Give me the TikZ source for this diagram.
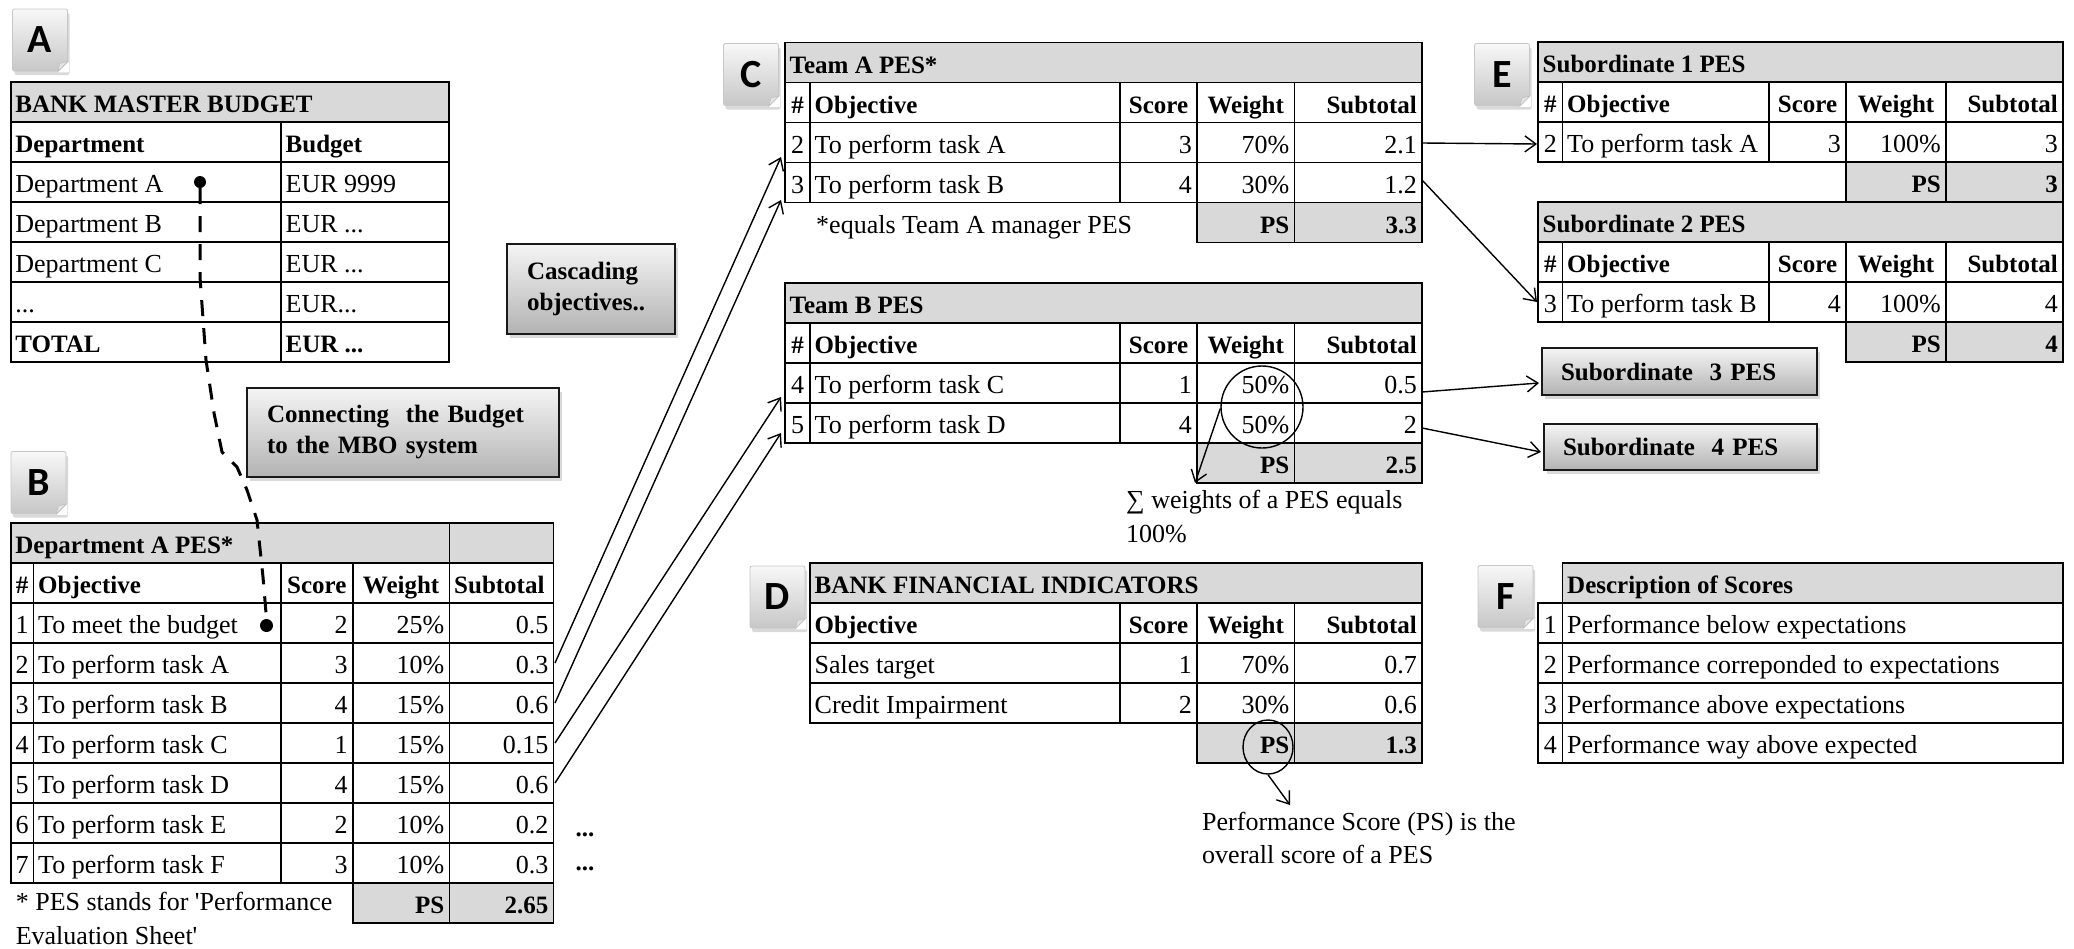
\documentclass[tikz,border=0pt]{standalone}
\usepackage{fontspec}
\setmainfont{Liberation Serif}
\newfontfamily\lblfont{Carlito}
\usetikzlibrary{arrows.meta,shadows,shapes.geometric}
\tikzset{
 reg/.style={font=\fontsize{26}{30}\selectfont},
 bld/.style={font=\fontsize{25}{30}\selectfont\bfseries},
 tl/.style={anchor=base west, inner sep=0pt},
 tr/.style={anchor=base east, inner sep=0pt},
 tc/.style={anchor=base, inner sep=0pt},
 grid/.style={line width=1.8pt, draw=black},
 hdr/.style={fill=black!15},
 lbl/.style={draw=black!22, line width=0.8pt, top color=black!3, bottom color=black!22, minimum width=55pt, minimum height=62pt, rounded corners=2pt, drop shadow={shadow xshift=2pt, shadow yshift=-4pt, opacity=0.3}, font=\lblfont\bfseries\fontsize{40}{40}\selectfont, inner sep=0pt},
 fold/.style={draw=black!25, line width=0.6pt, fill=black!10},
 gbox/.style={draw=black!90, line width=1.6pt, top color=black!4, bottom color=black!30, drop shadow={shadow xshift=3pt, shadow yshift=-4pt, opacity=0.3}, font=\fontsize{25}{31}\selectfont\bfseries, align=left, inner ysep=0pt, inner xsep=0pt},
 arr/.style={line width=1.4pt, -{Straight Barb[length=11pt,width=16pt,line width=1.4pt]}},
 dash line/.style={line width=3pt, dash pattern=on 16pt off 12pt},
}
\newcommand\tabL[5][reg]{\node[tl,#1] (#2) at ({#3+4.5},{#4-9.5}) {#5};}
\newcommand\tabR[5][reg]{\node[tr,#1] (#2) at ({#3-5},{#4-9.5}) {#5};}
\newcommand\tabC[5][reg]{\node[tc,#1] (#2) at ({#3},{#4-9.5}) {#5};}
\newcommand\pesgrid[8]{%
 \pgfmathsetmacro\pgY{#7+80+40*#8}%
 \pgfmathtruncatemacro\pgN{#8+1}%
 \fill[hdr] (#1,#7) rectangle (#6,{#7+40});
 \fill[hdr] (#4,\pgY) rectangle (#6,{\pgY+40});
 \foreach \k in {1,...,\pgN} \draw[grid] (#1,{#7+40*\k}) -- (#6,{#7+40*\k});
 \foreach \xx in {#2,#3,#4,#5} \draw[grid] (\xx,{#7+40}) -- (\xx,\pgY);
 \draw[grid] (#1,#7) rectangle (#6,\pgY);
 \draw[grid] (#4,\pgY) rectangle (#6,{\pgY+40});
 \draw[grid] (#5,\pgY) -- (#5,{\pgY+40});
}
\newcommand\labelbox[3]{%
 \node[lbl] (#1) at (#2) {#3};
 \fill[white] ([xshift=-10pt,yshift=-1pt]#1.south east) -- ([xshift=1pt,yshift=-1pt]#1.south east) -- ([xshift=1pt,yshift=10pt]#1.south east) -- cycle;
 \draw[fold] ([xshift=-10pt]#1.south east) -- ([xshift=-8pt,yshift=8pt]#1.south east) -- ([yshift=10pt]#1.south east) -- cycle;
}
\begin{document}
\begin{tikzpicture}[x=1pt,y=-1pt]
\useasboundingbox (0,0) rectangle (2074,948);

% ---------- labels ----------
\labelbox{labA}{40,40}{A}
\labelbox{labB}{38.5,482.5}{B}
\labelbox{labC}{751,74.5}{C}
\labelbox{labD}{777.5,597}{D}
\labelbox{labE}{1502,74.5}{E}
\labelbox{labF}{1505.5,596.5}{F}

% ---------- Table A ----------
\fill[hdr] (10.7,82) rectangle (448.6,122);
\draw[grid] (10.7,82) rectangle (448.6,362);
\foreach \yy in {122,162,202,242,282,322} \draw[grid] (10.7,\yy) -- (448.6,\yy);
\draw[grid] (281,122) -- (281,362);
\tabL[bld]{aTitle}{10.7}{122}{BANK MASTER BUDGET}
\tabL[bld]{aDep}{10.7}{162}{Department}
\tabL[bld]{aBud}{281}{162}{Budget}
\tabL{aR1}{10.7}{202}{Department A}
\tabL{aV1}{281}{202}{EUR 9999}
\tabL{aR2}{10.7}{242}{Department B}
\tabL{aV2}{281}{242}{EUR ...}
\tabL{aR3}{10.7}{282}{Department C}
\tabL{aV3}{281}{282}{EUR ...}
\tabL{aR4}{10.7}{322}{...}
\tabL{aV4}{281}{322}{EUR...}
\tabL[bld]{aR5}{10.7}{362}{TOTAL}
\tabL[bld]{aV5}{281}{362}{EUR ...}

% ---------- Table B ----------
\pesgrid{10.7}{33.5}{281}{352.7}{449.5}{553.5}{523}{7}
\draw[grid] (449.5,523) -- (449.5,563);
\tabL[bld]{bTitle}{10.7}{563}{Department A PES*}
\tabC[bld]{bH0}{22.1}{603}{\#}
\tabL[bld]{bH1}{33.5}{603}{Objective}
\tabC[bld]{bH2}{316.85}{603}{Score}
\tabC[bld]{bH3}{401.1}{603}{Weight}
\tabL[bld]{bH4}{449.5}{603}{Subtotal}
\foreach \vn/\vo/\vs/\vw/\vt [count=\r] in {1/To meet the budget/2/25\%/0.5, 2/To perform task A/3/10\%/0.3, 3/To perform task B/4/15\%/0.6, 4/To perform task C/1/15\%/0.15, 5/To perform task D/4/15\%/0.6, 6/To perform task E/2/10\%/0.2, 7/To perform task F/3/10\%/0.3} {
 \pgfmathsetmacro\yy{603+40*\r}
 \tabC{bn\vn}{22.1}{\yy}{\vn}
 \tabL{bo\vn}{33.5}{\yy}{\vo}
 \tabR{bs\vn}{352.7}{\yy}{\vs}
 \tabR{bw\vn}{449.5}{\yy}{\vw}
 \tabR{bt\vn}{553.5}{\yy}{\vt}
}
\tabR[bld]{bPS}{449.5}{923}{PS}
\tabR[bld]{bPSv}{553.5}{923}{2.65}
\node[tc,bld] (bDots1) at (585,836) {...};
\node[tc,bld] (bDots2) at (585,870) {...};
\node[tl,reg] (fn1) at (15.6,910) {* PES stands for \textquotesingle Performance};
\node[tl,reg] (fn2) at (15.6,944) {Evaluation Sheet\textquotesingle};

% ---------- Table C ----------
\pesgrid{785}{810}{1120}{1197}{1294.5}{1422}{42.5}{2}
\tabL[bld]{cTitle}{785}{82.5}{Team A PES*}
\tabC[bld]{cH0}{797.5}{122.5}{\#}
\tabL[bld]{cH1}{810}{122.5}{Objective}
\tabC[bld]{cH2}{1158.5}{122.5}{Score}
\tabC[bld]{cH3}{1245.75}{122.5}{Weight}
\tabR[bld]{cH4}{1422}{122.5}{Subtotal}
\tabC{cn2}{797.5}{162.5}{2}
\tabL{co2}{810}{162.5}{To perform task A}
\tabR{cs2}{1197}{162.5}{3}
\tabR{cw2}{1294.5}{162.5}{70\%}
\tabR{ct2}{1422}{162.5}{2.1}
\tabC{cn3}{797.5}{202.5}{3}
\tabL{co3}{810}{202.5}{To perform task B}
\tabR{cs3}{1197}{202.5}{4}
\tabR{cw3}{1294.5}{202.5}{30\%}
\tabR{ct3}{1422}{202.5}{1.2}
\tabR[bld]{cPS}{1294.5}{242.5}{PS}
\tabR[bld]{cPSv}{1422}{242.5}{3.3}
\node[tl,reg] (cNote) at (816,233) {*equals Team A manager PES};

% ---------- Team B ----------
\pesgrid{785}{810}{1120}{1197}{1294.5}{1422}{283}{2}
\tabL[bld]{tbTitle}{785}{323}{Team B PES}
\tabC[bld]{tbH0}{797.5}{363}{\#}
\tabL[bld]{tbH1}{810}{363}{Objective}
\tabC[bld]{tbH2}{1158.5}{363}{Score}
\tabC[bld]{tbH3}{1245.75}{363}{Weight}
\tabR[bld]{tbH4}{1422}{363}{Subtotal}
\tabC{tbn4}{797.5}{403}{4}
\tabL{tbo4}{810}{403}{To perform task C}
\tabR{tbs4}{1197}{403}{1}
\tabR{tbw4}{1294.5}{403}{50\%}
\tabR{tbt4}{1422}{403}{0.5}
\tabC{tbn5}{797.5}{443}{5}
\tabL{tbo5}{810}{443}{To perform task D}
\tabR{tbs5}{1197}{443}{4}
\tabR{tbw5}{1294.5}{443}{50\%}
\tabR{tbt5}{1422}{443}{2}
\tabR[bld]{tbPS}{1294.5}{483}{PS}
\tabR[bld]{tbPSv}{1422}{483}{2.5}
\node[draw,circle,minimum size=82pt,line width=1.4pt,inner sep=0pt] (circW) at (1262,407) {};
\coordinate (wTip) at (1195,483);
\draw[arr] (circW.182) -- (wTip);
\node[tl,reg] (noteW1) at (1126,508) {∑ weights of a PES equals};
\node[tl,reg] (noteW2) at (1126,542) {100\%};

% ---------- Table D ----------
\pesgrid{810}{810}{1120}{1197}{1294.5}{1422}{563}{2}
\tabL[bld]{dTitle}{810}{603}{BANK FINANCIAL INDICATORS}
\tabL[bld]{dH1}{810}{643}{Objective}
\tabC[bld]{dH2}{1158.5}{643}{Score}
\tabC[bld]{dH3}{1245.75}{643}{Weight}
\tabR[bld]{dH4}{1422}{643}{Subtotal}
\tabL{do1}{810}{683}{Sales target}
\tabR{ds1}{1197}{683}{1}
\tabR{dw1}{1294.5}{683}{70\%}
\tabR{dt1}{1422}{683}{0.7}
\tabL{do2}{810}{723}{Credit Impairment}
\tabR{ds2}{1197}{723}{2}
\tabR{dw2}{1294.5}{723}{30\%}
\tabR{dt2}{1422}{723}{0.6}
\tabR[bld]{dPS}{1294.5}{763}{PS}
\tabR[bld]{dPSv}{1422}{763}{1.3}
\node[draw,ellipse,minimum width=50pt,minimum height=54pt,line width=1.4pt,inner sep=0pt] (circPS) at (1268,747) {};
\coordinate (psTip) at (1290,805);
\draw[arr] (circPS.south) -- (psTip);
\node[tl,reg] (notePS1) at (1202,830) {Performance Score (PS) is the};
\node[tl,reg] (notePS2) at (1202,863) {overall score of a PES};

% ---------- Tables E ----------
\pesgrid{1538}{1562.5}{1769}{1846}{1946}{2063}{42}{1}
\tabL[bld]{e1Title}{1538}{82}{Subordinate 1 PES}
\tabC[bld]{e1H0}{1550.25}{122}{\#}
\tabL[bld]{e1H1}{1562.5}{122}{Objective}
\tabC[bld]{e1H2}{1807.5}{122}{Score}
\tabC[bld]{e1H3}{1896}{122}{Weight}
\tabR[bld]{e1H4}{2063}{122}{Subtotal}
\tabC{e1n}{1550.25}{162}{2}
\tabL{e1o}{1562.5}{162}{To perform task A}
\tabR{e1s}{1846}{162}{3}
\tabR{e1w}{1946}{162}{100\%}
\tabR{e1t}{2063}{162}{3}
\tabR[bld]{e1PS}{1946}{202}{PS}
\tabR[bld]{e1PSv}{2063}{202}{3}

\pesgrid{1538}{1562.5}{1769}{1846}{1946}{2063}{202}{1}
\tabL[bld]{e2Title}{1538}{242}{Subordinate 2 PES}
\tabC[bld]{e2H0}{1550.25}{282}{\#}
\tabL[bld]{e2H1}{1562.5}{282}{Objective}
\tabC[bld]{e2H2}{1807.5}{282}{Score}
\tabC[bld]{e2H3}{1896}{282}{Weight}
\tabR[bld]{e2H4}{2063}{282}{Subtotal}
\tabC{e2n}{1550.25}{322}{3}
\tabL{e2o}{1562.5}{322}{To perform task B}
\tabR{e2s}{1846}{322}{4}
\tabR{e2w}{1946}{322}{100\%}
\tabR{e2t}{2063}{322}{4}
\tabR[bld]{e2PS}{1946}{362}{PS}
\tabR[bld]{e2PSv}{2063}{362}{4}

% ---------- Table F ----------
\fill[hdr] (1562.5,563) rectangle (2063,603);
\draw[grid] (1562.5,563) rectangle (2063,603);
\draw[grid] (1538,603) rectangle (2063,763);
\foreach \yy in {643,683,723} \draw[grid] (1538,\yy) -- (2063,\yy);
\draw[grid] (1562.5,603) -- (1562.5,763);
\tabL[bld]{fTitle}{1562.5}{603}{Description of Scores}
\tabC{fn1}{1550.25}{643}{1}
\tabL{fd1}{1562.5}{643}{Performance below expectations}
\tabC{fn2}{1550.25}{683}{2}
\tabL{fd2}{1562.5}{683}{Performance correponded to expectations}
\tabC{fn3}{1550.25}{723}{3}
\tabL{fd3}{1562.5}{723}{Performance above expectations}
\tabC{fn4}{1550.25}{763}{4}
\tabL{fd4}{1562.5}{763}{Performance way above expected}

% ---------- grey boxes ----------
\node[gbox, minimum width=168pt, minimum height=90pt, text width=128pt] (casc) at (591,289) {Cascading\\objectives..};
\node[gbox, minimum width=312pt, minimum height=89pt, text width=272pt] (conn) at (403,432.5) {Connecting\ \ the Budget\\to the MBO system};
\node[gbox, minimum width=275pt, minimum height=47pt, text width=237pt] (sub3) at (1679.5,371.5) {Subordinate\ \ 3 PES};
\node[gbox, minimum width=273pt, minimum height=46pt, text width=235pt] (sub4) at (1680.5,447) {Subordinate\ \ 4 PES};

% ---------- connectors ----------
\coordinate (bA2) at (555,663);  \coordinate (cIn2) at (781,157);
\coordinate (bA3) at (555,703);  \coordinate (cIn3) at (781,200);
\coordinate (bA4) at (555,743);  \coordinate (tbIn4) at (781,397);
\coordinate (bA5) at (555,783);  \coordinate (tbIn5) at (781,433);
\draw[arr] (bA2) -- (cIn2);
\draw[arr] (bA3) -- (cIn3);
\draw[arr] (bA4) -- (tbIn4);
\draw[arr] (bA5) -- (tbIn5);
\coordinate (cOut2) at (1422,143); \coordinate (e1In) at (1537,144);
\coordinate (cOut3) at (1422,180); \coordinate (e2In) at (1537,302);
\coordinate (tbOut4) at (1422,392); \coordinate (s3In) at (1539,383);
\coordinate (tbOut5) at (1422,428); \coordinate (s4In) at (1541,452);
\draw[arr] (cOut2) -- (e1In);
\draw[arr] (cOut3) -- (e2In);
\draw[arr] (tbOut4) -- (s3In);
\draw[arr] (tbOut5) -- (s4In);

% ---------- budget link ----------
\node[circle,fill,inner sep=0pt,minimum size=12pt] (pinA) at (200,182) {};
\node[circle,fill,inner sep=0pt,minimum size=13pt] (dotB) at (266.5,625.5) {};
\draw[dash line] (pinA.south) -- (200,277) -- (206,360) -- (214,413) -- (222,452) -- (237,467) -- (247,490) -- (257,520) -- (263,577) -- (dotB.north);
\end{tikzpicture}
\end{document}
